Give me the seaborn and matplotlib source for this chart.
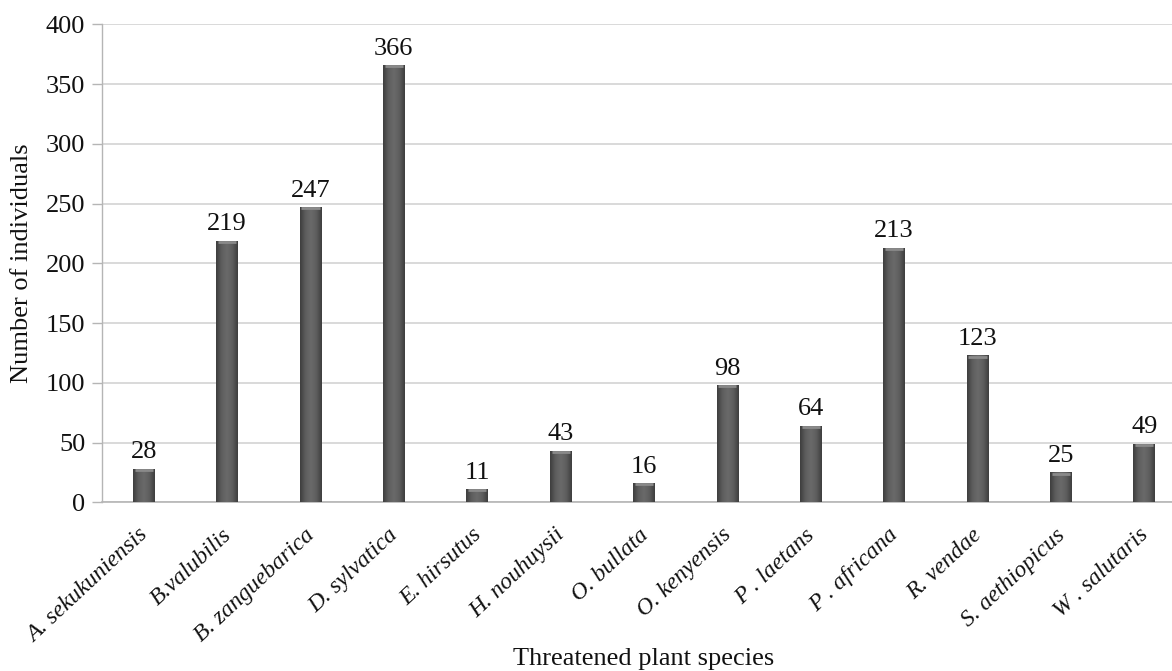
import numpy as np
import pandas as pd
import matplotlib
matplotlib.use("Agg")
import matplotlib.pyplot as plt
import matplotlib.transforms as mtransforms
import seaborn as sns
from matplotlib.colors import LinearSegmentedColormap

species = ["A. sekukuniensis", "B.valubilis", "B. zanguebarica", "D. sylvatica",
           "E. hirsutus", "H. nouhuysii", "O. bullata", "O. kenyensis",
           "P . laetans", "P . africana", "R. vendae", "S. aethiopicus",
           "W . salutaris"]
individuals = [28, 219, 247, 366, 11, 43, 16, 98, 64, 213, 123, 25, 49]
y_ticks = [0, 50, 100, 150, 200, 250, 300, 350, 400]

df = pd.DataFrame({"species": species, "individuals": individuals})

sns.set_theme(style="white")
plt.rcParams["font.family"] = ["Liberation Serif", "DejaVu Serif"]

FS = 19
TXT = "#111111"

fig = plt.figure(figsize=(11.72, 6.71), dpi=100)
ax = fig.add_axes([102 / 1172, 1 - 502.3 / 671, 1084 / 1172, (502.3 - 24.5) / 671])

sns.barplot(data=df, x="species", y="individuals", color="#555555",
            width=0.26, ax=ax, zorder=3, linewidth=0)

ax.set_ylim(0, 400)
ax.set_xlim(-0.5, len(species) - 0.5)
ax.set_yticks(y_ticks)
ax.set_yticklabels([str(t) for t in y_ticks], fontsize=FS, color=TXT)
ax.yaxis.grid(True, color="#d9d9d9", linewidth=1.4, zorder=0)
ax.xaxis.grid(False)
for side in ["top", "right"]:
    ax.spines[side].set_visible(False)
ax.spines["left"].set_color("#b5b5b5")
ax.spines["bottom"].set_color("#b5b5b5")
ax.spines["left"].set_linewidth(1.0)
ax.spines["bottom"].set_linewidth(1.2)
ax.tick_params(axis="y", which="major", length=7, width=1.0, color="#b5b5b5",
               left=True, pad=5)
ax.tick_params(axis="x", length=0, pad=16)

ax.set_xticks(range(len(species)))
ax.set_xticklabels(species, rotation=43, ha="right", rotation_mode="anchor",
                   fontsize=17, fontstyle="italic", color=TXT)
shift = mtransforms.ScaledTranslation(-6 / 100, 0, fig.dpi_scale_trans)
for lbl in ax.get_xticklabels():
    lbl.set_transform(lbl.get_transform() + shift)

ax.set_xlabel("Threatened plant species", fontsize=FS, color=TXT)
ax.set_ylabel("Number of individuals", fontsize=FS, color=TXT)
ax.yaxis.set_label_coords(-0.064, 0.5)
ax.xaxis.set_label_coords(0.5, -0.305)

# cylindrical shading on each bar
shade = LinearSegmentedColormap.from_list(
    "shade", ["#3e3e3e", "#5e5e5e", "#6a6a6a", "#5e5e5e", "#3e3e3e"])
grad = np.linspace(0, 1, 64).reshape(1, -1)
for patch, val in zip(ax.patches, individuals):
    x0, w = patch.get_x(), patch.get_width()
    im = ax.imshow(grad, cmap=shade, aspect="auto", zorder=4,
                   extent=[x0, x0 + w, 0, patch.get_height()],
                   interpolation="bicubic")
    im.set_clip_path(patch)
    # lighter rim at the top
    ax.plot([x0 + w * 0.08, x0 + w * 0.92], [val - 1.0, val - 1.0],
            color="#8a8a8a", linewidth=2.0, zorder=5, solid_capstyle="butt")
    ax.annotate(str(val), (x0 + w / 2, val), xytext=(0, 4),
                textcoords="offset points", ha="center", va="bottom",
                fontsize=FS, color=TXT)

ax.set_xlim(-0.5, len(species) - 0.5)
ax.set_ylim(0, 400)

fig.savefig("out.png", dpi=100)
